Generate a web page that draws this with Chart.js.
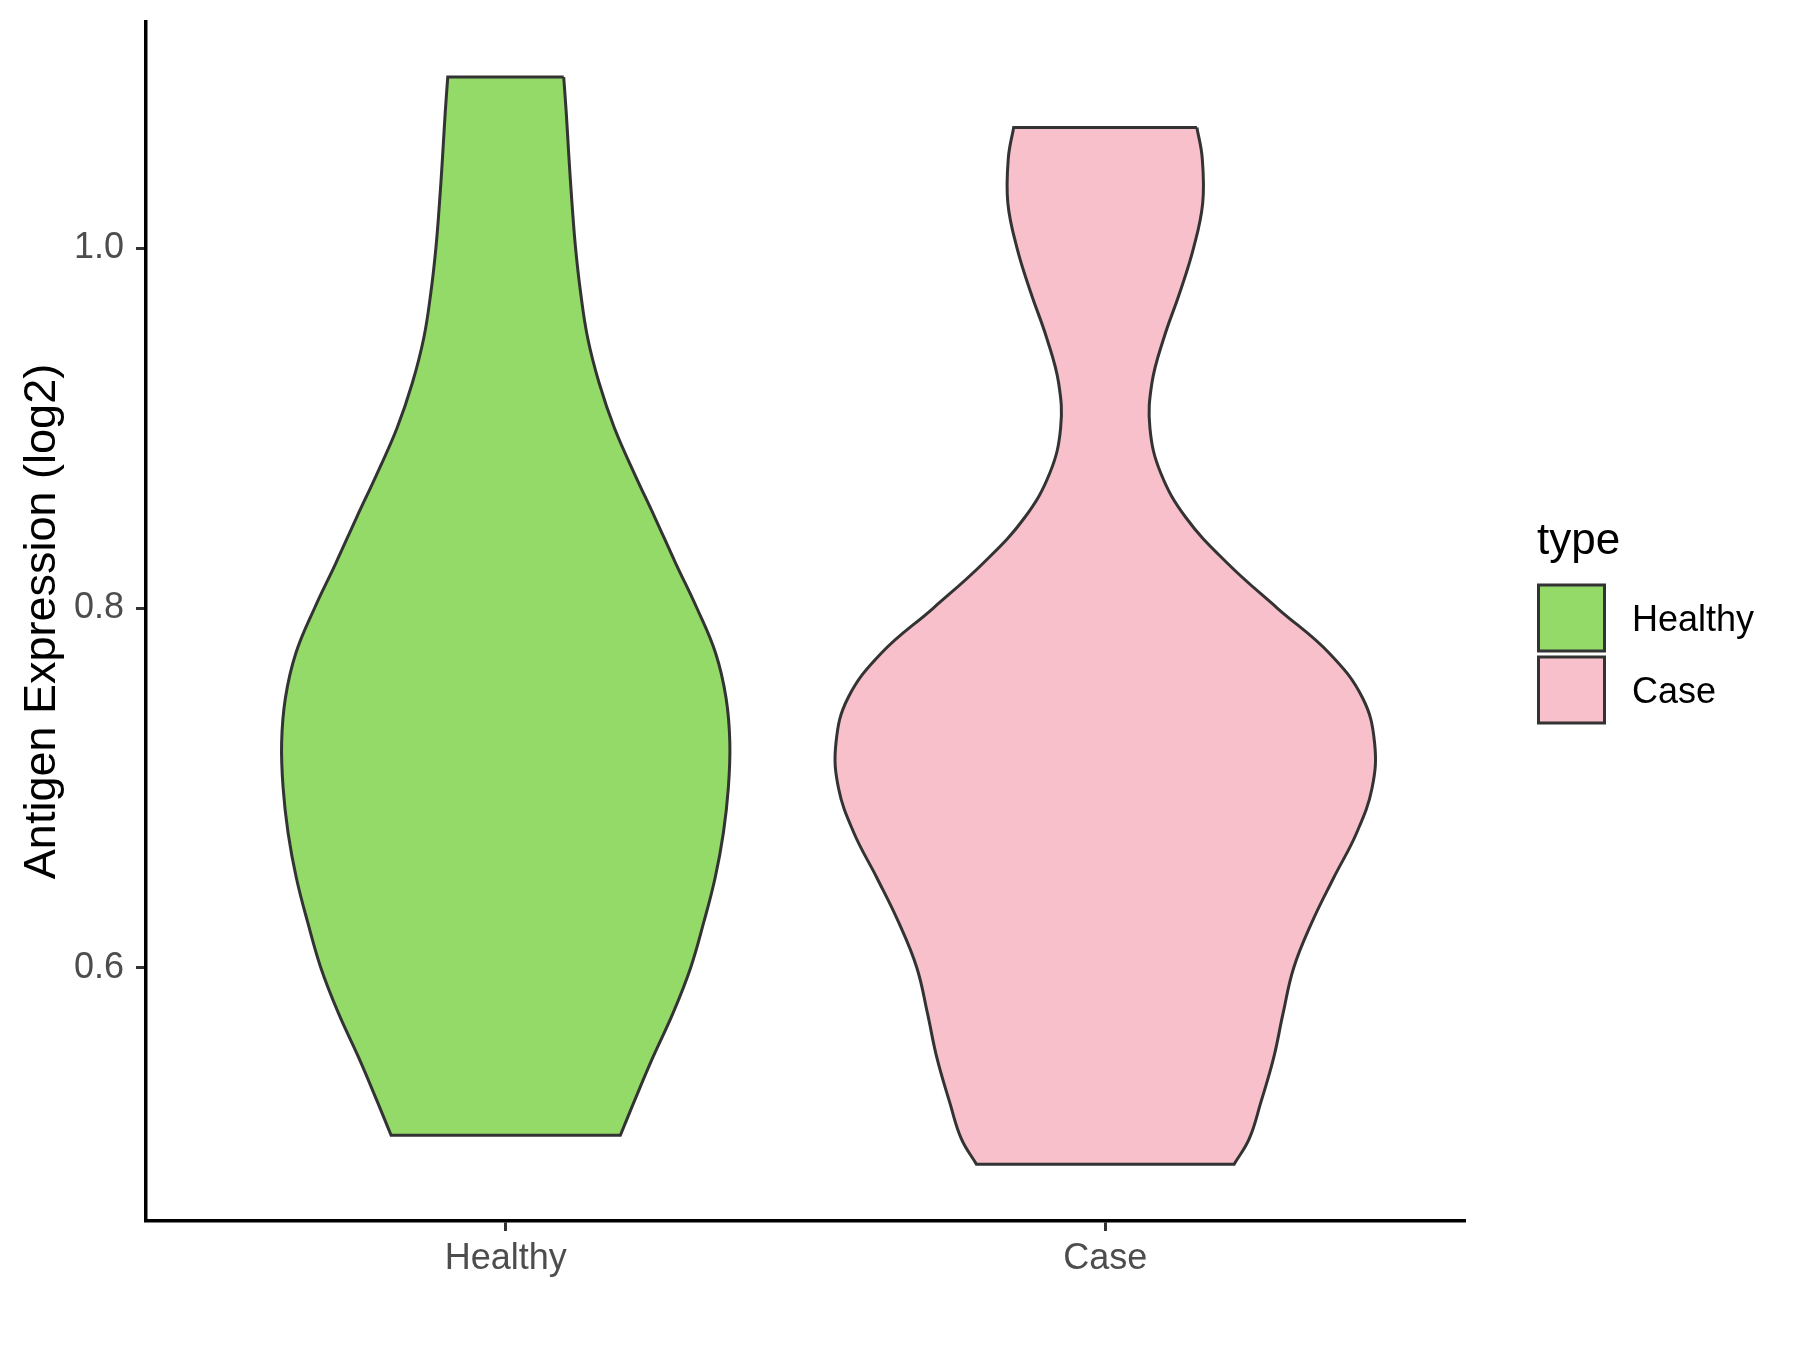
<!DOCTYPE html>
<html>
<head>
<meta charset="utf-8">
<script src="https://cdn.jsdelivr.net/npm/chart.js@4.4.1/dist/chart.umd.min.js"></script>
<style>
  html, body { margin: 0; padding: 0; background: #fff; }
  #wrap { width: 1800px; height: 1350px; }
</style>
</head>
<body>
<div id="wrap"><canvas id="violin"></canvas></div>
<script>
const categories = ['Healthy', 'Case'];
const xCenters = [1, 2];
const fillColors = ['#93DA69', '#F7C0CB'];
const yTicks = [0.6, 0.8, 1.0];
const yTitle = 'Antigen Expression (log2)';
const legendTitle = 'type';

// violin outlines, top to bottom: expression value and half width (x units)
const healthyY = [1.095, 1.075, 1.05, 1.025, 1.0, 0.975, 0.95, 0.925, 0.9, 0.875, 0.85, 0.825, 0.8,
                  0.775, 0.75, 0.725, 0.7, 0.675, 0.65, 0.625, 0.6, 0.575, 0.55, 0.525, 0.507];
const healthyW = [0.0967, 0.101, 0.1055, 0.1105, 0.1165, 0.125, 0.1367, 0.1558, 0.1813, 0.2142, 0.2492, 0.2833, 0.3188,
                  0.35, 0.3675, 0.3738, 0.3713, 0.363, 0.3492, 0.33, 0.3083, 0.2792, 0.245, 0.2133, 0.1912];

const caseY = [1.067, 1.05, 1.025, 1.0, 0.975, 0.95, 0.925, 0.9, 0.875, 0.85, 0.825, 0.8, 0.775,
               0.75, 0.725, 0.7, 0.675, 0.65, 0.625, 0.6, 0.575, 0.55, 0.525, 0.505, 0.491];
const caseW = [0.1528, 0.1617, 0.1625, 0.1472, 0.124, 0.0977, 0.0778, 0.0745, 0.0925, 0.135, 0.2033, 0.2867, 0.3733,
               0.4292, 0.4492, 0.445, 0.4192, 0.3808, 0.3442, 0.3142, 0.2967, 0.2808, 0.2592, 0.24, 0.215];

const FONT = '"Liberation Sans", Arial, sans-serif';

function violinPoints(center, ys, ws) {
    const right = ys.map((y, i) => ({ x: center + ws[i], y: y }));
    const left = ys.map((y, i) => ({ x: center - ws[i], y: y })).reverse();
    // corners doubled so the flat ends stay straight with tension on
    return [right[0], ...right, right[right.length - 1],
            left[0], ...left, left[left.length - 1], right[0]];
}

const outlines = [violinPoints(xCenters[0], healthyY, healthyW),
                  violinPoints(xCenters[1], caseY, caseW)];

const legendPlugin = {
    id: 'typeLegend',
    afterDraw(chart) {
        const c = chart.ctx;
        c.save();
        c.textAlign = 'left';
        c.textBaseline = 'alphabetic';
        c.fillStyle = '#000';
        c.font = '44px ' + FONT;
        c.fillText(legendTitle, 1537, 554);
        categories.forEach((name, i) => {
            const top = 585 + i * 72;
            c.fillStyle = fillColors[i];
            c.fillRect(1538.5, top, 66, 66);
            c.strokeStyle = '#333333';
            c.lineWidth = 3;
            c.strokeRect(1538.5, top, 66, 66);
            c.fillStyle = '#000';
            c.font = '36px ' + FONT;
            c.fillText(name, 1632, top + 46);
        });
        c.restore();
    }
};

Chart.defaults.font.family = FONT;

new Chart(document.getElementById('violin'), {
    type: 'scatter',
    data: {
        datasets: categories.map((name, i) => ({
            label: name,
            data: outlines[i],
            showLine: true,
            fill: 'shape',
            backgroundColor: fillColors[i],
            borderColor: '#333333',
            borderWidth: 3,
            tension: 0.4,
            pointRadius: 0,
            pointHoverRadius: 0
        }))
    },
    options: {
        responsive: true,
        maintainAspectRatio: false,
        animation: false,
        events: [],
        layout: { padding: { top: 22, right: 335, bottom: 0, left: 0 } },
        plugins: {
            legend: { display: false },
            tooltip: { enabled: false }
        },
        scales: {
            x: {
                type: 'linear',
                min: 0.4,
                max: 2.6,
                afterBuildTicks: s => { s.ticks = xCenters.map(v => ({ value: v })); },
                afterFit: s => { s.height = 129; s.paddingLeft = 0; s.paddingRight = 0; },
                ticks: {
                    callback: v => categories[xCenters.indexOf(v)],
                    font: { size: 36 },
                    color: '#4D4D4D',
                    padding: 6,
                    maxRotation: 0,
                    autoSkip: false
                },
                grid: { display: true, drawOnChartArea: false, drawTicks: true, tickLength: 10, tickWidth: 3, tickColor: '#333333' },
                border: { display: true, color: '#000', width: 3.5 }
            },
            y: {
                type: 'linear',
                min: 0.4594,
                max: 1.1256,
                afterBuildTicks: s => { s.ticks = yTicks.map(v => ({ value: v })); },
                afterFit: s => { s.width = 146; s.paddingTop = 0; s.paddingBottom = 0; },
                ticks: {
                    callback: v => v.toFixed(1),
                    font: { size: 36 },
                    color: '#4D4D4D',
                    padding: 12
                },
                grid: { display: true, drawOnChartArea: false, drawTicks: true, tickLength: 10, tickWidth: 3, tickColor: '#333333' },
                border: { display: true, color: '#000', width: 3.5 },
                title: {
                    display: true,
                    text: yTitle,
                    color: '#000',
                    font: { size: 45, lineHeight: 1 },
                    padding: { top: 20, bottom: 0 }
                }
            }
        }
    },
    plugins: [legendPlugin]
});
</script>
</body>
</html>
